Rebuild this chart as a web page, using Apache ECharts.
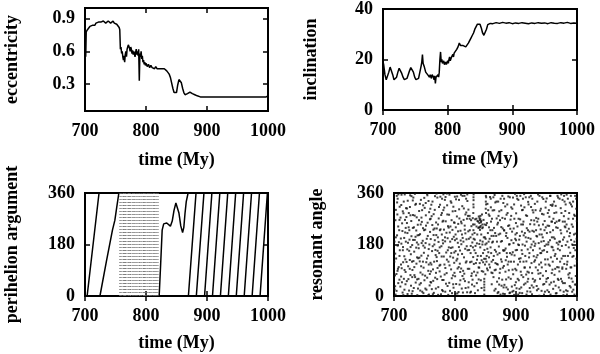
<!DOCTYPE html>
<html>
<head>
<meta charset="utf-8">
<script src="https://cdn.jsdelivr.net/npm/echarts@6/dist/echarts.min.js"></script>
<style>
  html, body { margin: 0; padding: 0; background: #fff; }
  #chart { width: 600px; height: 354px; }
</style>
</head>
<body>
<div id="chart"></div>
<script>
// ===== data (time in My) =====

const timeTicks = [700, 800, 900, 1000];
const eccTicks = [0.3, 0.6, 0.9];
const incTicks = [0, 20, 40];
const angleTicks = [0, 180, 360];

// eccentricity vs time
const eccentricity = [
  [700,0.57],[700.6,0.60],[701.2,0.55],[702,0.78],[704,0.80],[706,0.79],[708,0.83],[710,0.82],
  [712,0.84],[714,0.85],[716,0.84],[718,0.86],[720,0.85],[722,0.87],[724,0.86],[726,0.87],
  [728,0.86],[730,0.88],[732,0.87],[734,0.86],[736,0.87],[738,0.88],[740,0.87],[742,0.86],
  [744,0.87],[746,0.88],[748,0.86],[750,0.87],[752,0.85],[754,0.84],[756,0.82],[757,0.80],
  [758,0.62],[759,0.64],[760,0.58],[761,0.60],[762,0.55],[763,0.52],[764,0.56],[765,0.50],
  [766,0.57],[767,0.60],[768,0.55],[769,0.62],[770,0.64],[771,0.66],[772,0.67],[773,0.63],
  [774,0.60],[775,0.64],[776,0.62],[777,0.58],[778,0.61],[779,0.57],[780,0.60],[781,0.58],
  [782,0.55],[783,0.59],[784,0.62],[785,0.57],[786,0.60],[787,0.56],[788,0.62],[789,0.33],
  [790,0.58],[791,0.55],[792,0.60],[793,0.53],[794,0.56],[795,0.50],[796,0.52],[797,0.48],
  [798,0.50],[799,0.47],[800,0.49],[802,0.46],[804,0.48],[806,0.45],[808,0.47],[810,0.45],
  [812,0.46],[814,0.44],[816,0.46],[818,0.44],[820,0.43],[822,0.44],[824,0.45],[826,0.44],
  [828,0.45],[830,0.44],[832,0.43],[834,0.42],[836,0.41],[838,0.39],[840,0.36],[842,0.31],
  [844,0.26],[846,0.22],[848,0.205],[850,0.22],[852,0.29],[854,0.34],[855,0.355],[856,0.35],
  [858,0.31],[860,0.26],[862,0.22],[864,0.20],[866,0.20],[868,0.21],[870,0.22],[872,0.225],
  [874,0.22],[876,0.21],[878,0.22],[880,0.20],[882,0.21],[884,0.19],[886,0.20],[889,0.18],
  [892,0.195],[895,0.18],[898,0.195],[901,0.18],[904,0.195],[907,0.18],[910,0.195],[913,0.18],
  [916,0.195],[919,0.18],[922,0.195],[925,0.18],[928,0.195],[931,0.18],[934,0.195],[937,0.18],
  [940,0.195],[943,0.18],[946,0.195],[949,0.18],[952,0.195],[955,0.18],[958,0.195],[961,0.18],
  [964,0.195],[967,0.18],[970,0.195],[973,0.18],[976,0.195],[979,0.18],[982,0.195],[985,0.18],
  [988,0.195],[991,0.18],[994,0.195],[997,0.18],[1000,0.19]
];

// inclination (deg) vs time
const inclination = [
  [700,19],[701,18],[703,14],[705,12],[707,12.5],[709,15],[711,17],[713,16.5],[715,14],
  [717,12],[719,11.5],[721,13],[723,15],[725,16.5],[727,16],[729,14.5],[731,13],[733,12],
  [735,11.8],[737,12.5],[739,14],[741,15.5],[743,16.8],[745,16.5],[747,15],[749,13],[751,12],
  [753,11.5],[755,12.5],[757,15],[759,17.5],[760,19],[761,22],[762,18.5],[763,19],[764,17],
  [765,16.5],[766,15],[768,15.5],[769,14],[770,14.5],[772,13],[773,14],[775,12.5],[776,14],
  [778,13],[779,12],[780,13.5],[781,10.5],[782,13],[784,12.5],[785,14],[786,13],[787,15],
  [788,20],[789,23],[790,19],[791,20],[792,18.5],[794,19.5],[795,18],[796,17.5],[797,19],
  [798,18],[800,19.5],[801,18.5],[802,20],[803,21],[804,19.5],[806,21],[807,20.5],[808,22],
  [809,21],[810,22.5],[812,23],[813,22],[814,24],[815,23.5],[816,25],[818,26.5],[820,25.5],
  [822,25],[824,25.5],[826,26],[828,25],[830,25.5],[832,26.5],[834,27.5],[836,28.5],[838,29.5],
  [840,30.5],[842,32],[844,33],[846,34],[848,34.5],[850,34],[852,32.5],[854,30.5],[856,29.6],
  [858,30],[860,32],[862,33.8],[864,34.5],[866,34.3],[868,34.6],[870,34.2],[875,34.6],
  [880,34.3],[885,34.7],[890,34.4],[895,34.6],[900,34.2],[905,34.5],[910,34.3],[915,34.6],
  [920,34.4],[925,34.2],[930,34.5],[935,34.3],[940,34.6],[945,34.4],[950,34.5],[955,34.2],
  [960,34.6],[965,34.4],[970,34.3],[975,34.6],[980,34.4],[985,34.7],[990,34.3],[995,34.5],
  [1000,34.4]
];

// perihelion argument (deg), '-' breaks the line where it wraps 360 -> 0
const periSolid = [
  [703.5,0],[723,360],[723,'-'],
  [724.5,0],[735,120],[745,230],[749,265],[752,310],[755.5,360],[755.5,'-'],
  [821.6,0],[824,110],[826.5,230],[829,252],[831,258],[834,255],[837,250],[840,244],
  [843,262],[846,300],[849,325],[851.5,330],[854,290],[857,245],[860,222],[862,240],
  [864,290],[866,330],[869,360],[869,'-'],
  [869.5,0],[882,360],[882,'-'],
  [882.5,0],[895,360],[895,'-'],
  [896,0],[908,360],[908,'-'],
  [909,0],[921,360],[921,'-'],
  [922,0],[934,360],[934,'-'],
  [935,0],[947,360],[947,'-'],
  [948,0],[960,360],[960,'-'],
  [961,0],[973,360],[973,'-'],
  [974,0],[986,360],[986,'-'],
  [987,0],[999,360]
];

// fast-circulating stretch, drawn dotted
const periFast = [
  [757,0],[757.3,360],[757,'-'],[758.6,0],[758.9,360],[758,'-'],[760.5,0],[760.8,360],[760,'-'],
  [762.9,0],[763.2,360],[763,'-'],[764.8,0],[765.1,360],[765,'-'],[766.4,0],[766.7,360],[766,'-'],
  [768.7,0],[769,360],[769,'-'],[770.9,0],[771.2,360],[771,'-'],[772.5,0],[772.8,360],[772,'-'],
  [774.6,0],[774.9,360],[774,'-'],[777.1,0],[777.4,360],[777,'-'],[778.8,0],[779.1,360],[779,'-'],
  [780.6,0],[780.9,360],[780,'-'],[783.2,0],[783.5,360],[783,'-'],[785,0],[785.3,360],[785,'-'],
  [786.9,0],[787.2,360],[787,'-'],[789.4,0],[789.7,360],[789,'-'],[791.5,0],[791.8,360],[791,'-'],
  [793.3,0],[793.6,360],[793,'-'],[795.8,0],[796.1,360],[796,'-'],[797.6,0],[797.9,360],[797,'-'],
  [799.5,0],[799.8,360],[799,'-'],[801.7,0],[802,360],[801,'-'],[803.4,0],[803.7,360],[803,'-'],
  [805.9,0],[806.2,360],[805,'-'],[807.8,0],[808.1,360],[807,'-'],[809.6,0],[809.9,360],[809,'-'],
  [811.8,0],[812.1,360],[811,'-'],[813.5,0],[813.8,360],[813,'-'],[815.9,0],[816.2,360],[815,'-'],
  [817.7,0],[818,360],[817,'-'],[819.6,0],[819.9,360]
];

// resonant angle (deg) samples, first pass
const resonant = [
  [701,23],[702,148],[703,301],[704,77],[705,212],[706,340],[707,45],[708,188],[709,266],[700.5,120],[704.5,350],[706.5,95],[708.5,230],[702.5,5],[709.5,160],[705.5,285],
  [710.4,33],[711.2,201],[711.9,318],[712.6,97],[713.3,254],[714.1,12],[714.8,171],[715.5,289],[716.2,60],[716.9,139],[717.6,355],[718.3,222],[719.0,84],[719.7,307],[712.1,183],[715.0,118],[718.8,41],
  [720.3,276],[721.0,52],[721.8,163],[722.5,333],[723.2,104],[724.0,240],[724.7,19],[725.4,197],[726.1,311],[726.9,73],[727.6,146],[728.3,262],[729.1,8],[729.8,178],[722.0,220],[725.9,126],[728.7,349],
  [730.2,91],[730.9,238],[731.7,344],[732.4,28],[733.1,155],[733.9,281],[734.6,66],[735.3,207],[736.0,322],[736.8,113],[737.5,187],[738.2,3],[739.0,249],[739.7,132],[731.3,196],[734.2,357],[737.9,58],
  [740.5,167],[741.2,297],[741.9,40],[742.7,216],[743.4,82],[744.1,336],[744.9,141],[745.6,259],[746.3,15],[747.1,193],[747.8,317],[748.5,99],[749.3,230],[749.9,55],[742.2,121],[745.0,274],[748.0,176],
  [750.3,308],[751.0,71],[751.8,185],[752.5,246],[753.2,22],[754.0,131],[754.7,352],[755.4,210],[756.2,88],[756.9,164],[757.6,293],[758.4,37],[759.1,224],[759.8,116],[752.0,325],[755.8,2],[758.9,268],
  [760.2,199],[760.9,47],[761.7,279],[762.4,157],[763.1,330],[763.9,93],[764.6,232],[765.3,11],[766.1,180],[766.8,301],[767.5,64],[768.3,143],[769.0,257],[769.7,358],[761.3,110],[764.9,213],[768.6,26],
  [770.4,122],[771.1,344],[771.9,205],[772.6,31],[773.3,271],[774.1,150],[774.8,86],[775.5,319],[776.3,233],[777.0,6],[777.7,174],[778.5,290],[779.2,56],[779.9,195],[772.2,250],[775.9,109],[778.8,340],
  [780.1,17],[780.8,263],[781.6,138],[782.3,309],[783.0,75],[783.8,191],[784.5,346],[785.2,43],[786.0,221],[786.7,127],[787.4,285],[788.2,160],[788.9,4],[789.6,239],[781.0,355],[784.2,98],[787.9,202],
  [790.3,284],[791.0,107],[791.8,18],[792.5,243],[793.2,168],[794.0,326],[794.7,62],[795.4,199],[796.2,296],[796.9,134],[797.6,29],[798.4,257],[799.1,81],[799.8,347],[792.1,190],[795.8,231],[798.8,152],
  [800.2,69],[800.9,215],[801.7,338],[802.4,124],[803.1,278],[803.9,9],[804.6,186],[805.3,252],[806.1,101],[806.8,303],[807.5,40],[808.3,159],[809.0,228],[809.7,354],[801.3,240],[804.9,145],[808.6,84],
  [810.4,181],[811.1,26],[811.9,314],[812.6,203],[813.3,88],[814.1,266],[814.8,135],[815.5,350],[816.3,52],[817.0,219],[817.7,117],[818.5,292],[819.2,174],[819.9,13],[812.2,70],[815.9,246],[818.8,198],
  [820.3,332],[821.0,95],[821.8,226],[822.5,48],[823.2,161],[824.0,270],[824.7,118],[825.4,205],[826.2,15],[826.9,244],[827.6,79],[828.4,187],[829.1,272],[829.8,136],[822.0,302],[825.8,175],[828.8,57],
  [830.2,230],[830.4,310],[830.4,335],[830.5,355],[830.9,112],[831.7,34],[832.4,197],[833.1,268],[833.9,150],[834.6,72],[835.3,243],[836.1,127],[836.8,262],[837.5,20],[838.3,238],[839.0,278],[839.7,99],[832.0,220],[835.9,184],[838.8,58],
  [840.2,272],[840.9,231],[841.7,280],[842.4,140],[843.1,262],[843.9,87],[844.6,237],[845.3,190],[846.1,118],[846.8,266],[848.0,5],[848.0,20],[848.0,40],[848.0,60],[848.3,161],[849.0,205],[849.7,76],[841.3,194],[844.9,250],[846.0,150],[843.5,28],
  [850.3,130],[850.4,305],[850.5,330],[850.6,350],[851.0,248],[851.8,184],[852.5,96],[853.2,322],[853.9,220],[854.6,153],[855.3,285],[856.1,110],[856.8,200],[857.5,346],[858.3,170],[859.0,260],[859.7,82],[852.0,140],[855.8,240],[858.8,310],
  [860.2,41],[860.9,187],[861.7,299],[862.4,126],[863.1,66],[863.9,238],[864.6,19],[865.3,161],[866.1,327],[866.8,92],[867.5,210],[868.3,271],[869.0,50],[869.7,145],[861.3,230],[864.9,353],[868.6,112],
  [870.4,256],[871.1,14],[871.9,173],[872.6,296],[873.3,81],[874.1,218],[874.8,340],[875.5,128],[876.3,36],[877.0,192],[877.7,273],[878.5,99],[879.2,325],[879.9,158],[872.2,62],[875.9,241],[878.8,8],
  [880.1,105],[880.8,229],[881.6,7],[882.3,313],[883.0,166],[883.8,58],[884.5,284],[885.2,137],[886.0,203],[886.7,23],[887.4,348],[888.2,90],[888.9,247],[889.6,181],[881.0,39],[884.2,220],[887.9,120],
  [890.3,12],[891.0,267],[891.8,120],[892.5,195],[893.2,33],[894.0,305],[894.7,153],[895.4,76],[896.2,236],[896.9,4],[897.6,142],[898.4,357],[899.1,215],[899.8,48],[892.1,280],[895.8,18],[898.8,95],
  [900.2,289],[900.9,27],[901.7,161],[902.4,243],[903.1,110],[903.9,336],[904.6,55],[905.3,197],[906.1,11],[906.8,268],[907.5,132],[908.3,316],[909.0,73],[909.7,225],[901.3,350],[904.9,178],[908.6,30],
  [910.4,147],[911.1,301],[911.9,66],[912.6,212],[913.3,356],[914.1,99],[914.8,176],[915.5,44],[916.3,282],[917.0,121],[917.7,237],[918.5,16],[919.2,163],[919.9,329],[912.2,260],[915.9,205],[918.8,85],
  [920.3,203],[921.0,82],[921.8,345],[922.5,28],[923.2,251],[924.0,170],[924.7,311],[925.4,115],[926.2,6],[926.9,228],[927.6,60],[928.4,292],[929.1,139],[929.8,264],[922.0,150],[925.8,37],[928.8,190],
  [930.2,50],[930.9,322],[931.7,183],[932.4,100],[933.1,273],[933.9,35],[934.6,208],[935.3,143],[936.1,355],[936.8,78],[937.5,247],[938.3,1],[939.0,166],[939.7,298],[931.3,125],[934.9,260],[938.6,215],
  [940.4,233],[941.1,117],[941.9,18],[942.6,287],[943.3,158],[944.1,71],[944.8,339],[945.5,192],[946.3,42],[947.0,262],[947.7,128],[948.5,309],[949.2,87],[949.9,180],[942.2,215],[945.9,5],[948.8,240],
  [950.3,341],[951.0,154],[951.8,246],[952.5,63],[953.2,188],[954.0,14],[954.7,277],[955.4,106],[956.2,223],[956.9,318],[957.6,47],[958.4,172],[959.1,260],[959.8,92],[952.0,128],[955.8,350],[958.8,205],
  [960.2,120],[960.9,25],[961.7,205],[962.4,330],[963.1,74],[963.9,255],[964.6,147],[965.3,9],[966.1,292],[966.8,186],[967.5,101],[968.3,238],[969.0,344],[969.7,56],[961.3,270],[964.9,36],[968.6,165],
  [970.4,263],[971.1,86],[971.9,160],[972.6,20],[973.3,307],[974.1,219],[974.8,131],[975.5,51],[976.3,336],[977.0,197],[977.7,3],[978.5,279],[979.2,112],[979.9,243],[972.2,190],[975.9,95],[978.8,350],
  [980.1,45],[980.8,297],[981.6,178],[982.3,95],[983.0,354],[983.8,226],[984.5,17],[985.2,140],[986.0,270],[986.7,64],[987.4,209],[988.2,326],[988.9,151],[989.6,30],[981.0,240],[984.2,120],[987.9,80],
  [990.3,196],[991.0,61],[991.8,313],[992.5,137],[993.2,242],[994.0,22],[994.7,168],[995.4,284],[996.2,106],[996.9,350],[997.6,218],[998.4,40],[999.1,130],[999.7,262],[992.1,15],[995.8,190],[998.8,305]
];

// resonant angle (deg) samples, second pass
const resonantMore = [
  [700.8,190],[701.6,72],[702.3,265],[703.5,131],[704.2,18],[705.1,327],[706.0,176],[706.9,243],[707.7,101],[708.9,57],[709.3,312],[703.0,205],[707.2,355],[701.9,34],[705.8,88],[709.0,140],
  [710.7,274],[711.5,110],[712.3,354],[713.0,48],[713.8,227],[714.5,160],[715.3,3],[716.0,330],[716.7,203],[717.3,91],[718.0,266],[718.6,128],[719.4,190],[711.7,68],[714.4,296],[717.1,22],[719.2,238],
  [720.6,119],[721.4,306],[722.2,7],[722.9,186],[723.6,59],[724.3,290],[725.1,230],[725.8,95],[726.5,352],[727.2,171],[727.9,36],[728.6,209],[729.5,120],[721.2,255],[724.9,158],[727.0,282],[729.9,66],
  [730.5,17],[731.1,283],[731.9,122],[732.7,240],[733.5,73],[734.0,196],[734.9,319],[735.6,47],[736.4,169],[737.2,275],[737.8,135],[738.6,212],[739.3,26],[730.8,334],[733.3,101],[736.5,229],[739.9,180],
  [740.2,60],[740.8,213],[741.6,134],[742.4,322],[743.0,19],[743.8,250],[744.5,104],[745.3,185],[746.1,300],[746.8,75],[747.5,237],[748.2,10],[749.0,151],[749.6,343],[741.0,265],[744.0,45],[747.4,120],
  [750.5,169],[751.4,26],[752.2,282],[752.9,118],[753.7,200],[754.4,64],[755.1,256],[755.9,141],[756.6,332],[757.3,5],[758.0,180],[758.7,77],[759.5,305],[751.2,232],[754.2,357],[757.0,110],[759.9,49],
  [760.5,86],[761.2,319],[762.0,24],[762.8,248],[763.5,174],[764.3,53],[765.0,286],[765.8,120],[766.5,236],[767.2,349],[767.9,161],[768.8,81],[769.3,213],[760.1,270],[763.7,6],[766.9,195],[769.9,136],
  [770.1,236],[770.8,59],[771.5,158],[772.3,4],[773.0,189],[773.8,311],[774.5,106],[775.2,230],[776.0,347],[776.7,68],[777.4,283],[778.1,138],[778.9,21],[779.6,260],[771.4,98],[774.9,170],[778.4,215],
  [780.4,184],[781.2,56],[781.9,232],[782.7,110],[783.4,336],[784.0,15],[784.8,261],[785.6,152],[786.3,80],[787.1,317],[787.8,35],[788.5,244],[789.3,120],[780.9,300],[783.6,205],[786.6,358],[789.9,170],
  [790.6,46],[791.4,222],[792.2,138],[792.9,331],[793.6,93],[794.4,265],[795.1,10],[795.9,170],[796.6,72],[797.3,312],[798.0,207],[798.7,116],[799.4,256],[790.9,354],[793.9,150],[797.0,41],[799.9,195],
  [800.5,297],[801.0,157],[801.9,42],[802.7,200],[803.5,348],[804.2,96],[805.0,226],[805.8,14],[806.4,171],[807.2,271],[807.9,113],[808.8,55],[809.3,194],[800.8,8],[803.8,130],[806.6,336],[809.9,260],
  [810.1,96],[810.8,254],[811.6,147],[812.4,350],[813.0,12],[813.8,190],[814.5,306],[815.2,78],[816.0,232],[816.7,165],[817.4,28],[818.2,340],[818.9,121],[819.6,270],[811.4,215],[814.2,60],[817.1,285],
  [820.6,160],[821.3,280],[821.9,30],[822.7,200],[823.4,95],[824.2,230],[824.9,12],[825.6,150],[826.4,265],[827.1,120],[827.9,40],[828.6,215],[829.4,170],[820.1,355],[823.9,280],[826.8,70],[829.6,250],
  [830.0,290],[830.2,320],[830.3,345],[830.6,200],[831.3,85],[832.1,250],[832.8,10],[833.6,175],[834.3,115],[835.1,270],[835.8,45],[836.5,215],[837.2,140],[838.0,260],[838.7,100],[839.4,240],[831.8,160],[836.9,82],[839.8,182],
  [840.0,255],[840.6,265],[841.0,240],[841.6,268],[842.1,245],[842.6,258],[840.5,115],[841.4,170],[842.3,55],[843.0,215],[843.7,125],[844.3,285],[844.9,180],[845.6,240],[846.4,85],[847.2,205],[847.8,130],[848.0,30],[848.0,50],[848.5,250],[849.2,110],[849.8,180],
  [850.2,200],[850.8,290],[851.0,320],[851.1,345],[851.6,120],[852.3,255],[853.0,165],[853.7,90],[854.4,300],[855.1,190],[855.8,135],[856.6,280],[857.3,100],[858.0,230],[858.6,340],[859.3,150],[859.9,210],
  [860.6,270],[861.4,80],[862.2,190],[862.9,345],[863.6,140],[864.3,300],[865.0,90],[865.8,220],[866.5,25],[867.3,155],[868.0,330],[868.8,190],[869.4,250],[860.0,120],[863.3,210],[866.3,115],[869.9,10],
  [870.1,110],[870.8,330],[871.6,215],[872.4,40],[873.0,150],[873.8,265],[874.6,5],[875.2,190],[876.0,300],[876.7,120],[877.4,57],[878.2,236],[878.9,160],[879.6,30],[871.3,280],[874.2,95],[877.6,350],
  [880.5,340],[881.3,160],[882.0,270],[882.7,85],[883.5,210],[884.2,30],[884.9,150],[885.7,320],[886.4,110],[887.1,245],[887.8,65],[888.6,180],[889.3,10],[880.3,230],[883.2,125],[886.2,290],[889.9,345],
  [890.6,235],[891.4,60],[892.2,310],[892.9,145],[893.6,225],[894.4,92],[895.1,344],[895.9,185],[896.6,120],[897.3,270],[898.0,38],[898.7,200],[899.5,160],[890.1,150],[893.9,15],[896.9,320],[899.9,255],
  [900.6,90],[901.3,220],[902.0,340],[902.8,60],[903.5,180],[904.2,270],[905.0,130],[905.7,25],[906.4,210],[907.1,350],[907.8,85],[908.6,250],[909.3,160],[900.1,195],[903.6,5],[906.7,120],[909.9,300],
  [910.1,10],[910.8,180],[911.5,250],[912.3,120],[913.0,40],[913.8,310],[914.5,220],[915.2,140],[916.0,345],[916.7,75],[917.4,190],[918.2,280],[918.9,50],[919.6,230],[911.4,340],[914.2,100],[917.2,5],
  [920.6,320],[921.4,135],[922.2,225],[922.9,100],[923.6,15],[924.3,350],[925.0,265],[925.7,180],[926.5,80],[927.2,300],[927.9,160],[928.6,30],[929.4,225],[920.0,60],[923.9,200],[926.7,340],[929.9,120],
  [930.6,175],[931.4,55],[932.1,300],[932.9,230],[933.6,135],[934.3,20],[935.0,330],[935.8,90],[936.5,270],[937.2,185],[938.0,110],[938.6,350],[939.4,60],[930.1,250],[933.5,210],[936.6,25],[939.9,150],
  [940.1,80],[940.8,305],[941.5,190],[942.3,100],[943.0,345],[943.8,205],[944.5,40],[945.2,285],[946.0,160],[946.7,230],[947.4,15],[948.2,110],[948.9,330],[949.6,50],[941.3,150],[944.2,250],[947.2,175],
  [950.6,220],[951.4,20],[952.1,290],[952.9,180],[953.6,110],[954.3,245],[955.0,40],[955.8,195],[956.5,350],[957.2,135],[958.0,260],[958.6,80],[959.4,315],[950.1,60],[953.9,300],[956.6,5],[959.9,170],
  [960.6,230],[961.4,160],[962.1,50],[962.9,290],[963.6,200],[964.3,95],[965.0,315],[965.8,240],[966.5,10],[967.2,130],[968.0,350],[968.6,60],[969.4,180],[960.1,320],[963.5,140],[966.6,260],[969.9,100],
  [970.1,30],[970.8,190],[971.5,340],[972.3,120],[973.0,230],[973.8,60],[974.5,290],[975.2,175],[976.0,100],[976.7,260],[977.4,140],[978.2,15],[978.9,205],[979.6,330],[971.3,265],[974.2,355],[977.2,45],
  [980.6,140],[981.4,320],[982.1,20],[982.9,250],[983.6,110],[984.3,190],[985.0,340],[985.8,75],[986.5,170],[987.2,290],[988.0,35],[988.6,220],[989.4,100],[980.1,260],[983.5,5],[986.6,235],[989.9,350],
  [990.6,100],[991.4,250],[992.1,180],[992.9,50],[993.6,330],[994.3,140],[995.0,215],[995.8,5],[996.5,280],[997.2,160],[998.0,70],[998.6,340],[999.4,200],[990.1,320],[993.5,270],[996.6,40],[999.8,120]
];

// ===== layout =====
const FONT = '"Liberation Serif", "Times New Roman", serif';
const txt = { fontFamily: FONT, fontWeight: 'bold', fontSize: 18, color: '#000' };

// plot boxes: [left, top, width, height]
const boxes = [
  [85, 8, 183, 103],
  [383, 8, 194, 102],
  [85, 193, 183, 103],
  [394, 193, 183, 103]
];

const yConf = [
  { name: 'eccentricity', min: 0.05, max: 1.0, ticks: eccTicks, gap: 64 },
  { name: 'inclination', min: 0, max: 40, ticks: incTicks, gap: 63 },
  { name: 'perihelion argument', min: 0, max: 360, ticks: angleTicks, gap: 64 },
  { name: 'resonant angle', min: 0, max: 360, ticks: angleTicks, gap: 68 }
];

const tickStyle = { inside: true, length: 5, lineStyle: { color: '#000', width: 1.5 } };
const plain = v => String(v);

const grids = [], xAxes = [], yAxes = [];
boxes.forEach((b, i) => {
  grids.push({ left: b[0], top: b[1], width: b[2], height: b[3], show: true,
    borderColor: '#000', borderWidth: 2, backgroundColor: 'transparent' });

  // bottom axis with labels + mirrored top axis
  xAxes.push({
    type: 'value', gridIndex: i, position: 'bottom', min: 700, max: 1000,
    name: 'time (My)', nameLocation: 'middle', nameGap: i < 2 ? 40 : 38, nameTextStyle: txt,
    axisLine: { show: false }, splitLine: { show: false },
    axisTick: Object.assign({ customValues: timeTicks }, tickStyle),
    axisLabel: Object.assign({ customValues: timeTicks, margin: 11, formatter: plain }, txt)
  });
  xAxes.push({
    type: 'value', gridIndex: i, position: 'top', min: 700, max: 1000,
    axisLine: { show: false }, splitLine: { show: false }, axisLabel: { show: false },
    axisTick: Object.assign({ customValues: timeTicks }, tickStyle)
  });

  const yc = yConf[i];
  yAxes.push({
    type: 'value', gridIndex: i, position: 'left', min: yc.min, max: yc.max,
    name: yc.name, nameLocation: 'middle', nameGap: yc.gap, nameTextStyle: txt,
    axisLine: { show: false }, splitLine: { show: false },
    axisTick: Object.assign({ customValues: yc.ticks }, tickStyle),
    axisLabel: Object.assign({ customValues: yc.ticks, margin: 10, formatter: plain }, txt)
  });
  yAxes.push({
    type: 'value', gridIndex: i, position: 'right', min: yc.min, max: yc.max,
    axisLine: { show: false }, splitLine: { show: false }, axisLabel: { show: false },
    axisTick: Object.assign({ customValues: yc.ticks }, tickStyle)
  });
});

const lineSeries = (data, gi, extra) => Object.assign({
  type: 'line', xAxisIndex: gi * 2, yAxisIndex: gi * 2, data: data,
  symbol: 'none', connectNulls: false, silent: true,
  lineStyle: { color: '#000', width: 1.5 }
}, extra || {});

const chart = echarts.init(document.getElementById('chart'), null, { renderer: 'canvas' });
chart.setOption({
  animation: false,
  backgroundColor: '#fff',
  grid: grids,
  xAxis: xAxes,
  yAxis: yAxes,
  series: [
    lineSeries(eccentricity, 0),
    lineSeries(inclination, 1),
    lineSeries(periSolid, 2),
    lineSeries(periFast, 2, { lineStyle: { color: '#777', width: 1, type: [1, 2] } }),
    {
      type: 'scatter', xAxisIndex: 6, yAxisIndex: 6, data: resonant.concat(resonantMore),
      symbol: 'rect', symbolSize: 2, silent: true,
      itemStyle: { color: '#111' }
    }
  ]
});
</script>
</body>
</html>
